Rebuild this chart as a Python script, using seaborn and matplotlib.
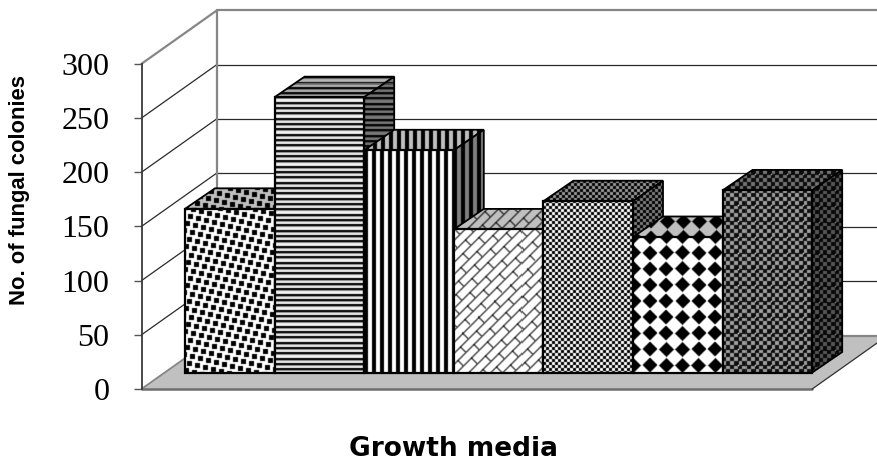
import numpy as np
import matplotlib
matplotlib.use("Agg")
import matplotlib.pyplot as plt
from matplotlib.patches import Polygon
from matplotlib.transforms import IdentityTransform
import seaborn as sns

# Colony counts per growth medium
media = ["M1", "M2", "M3", "M4", "M5", "M6", "M7"]
colonies = [151, 254, 205, 132, 158, 125, 168]
tick_values = [0, 50, 100, 150, 200, 250, 300]
x_title = "Growth media"
y_title = "No. of fungal colonies"

W, H = 877, 462
sns.set_theme(style="white")
plt.rcParams["font.family"] = ["Liberation Serif", "DejaVu Sans"]

fig = plt.figure(figsize=(W / 100, H / 100), dpi=100, facecolor="white")

# Oblique box geometry, in pixels
AX_L, AX_B = 141.5, 389.0
PX_PER_UNIT = 54.2 / 50
BAR_L, BAR_W = 185.0, 89.6
WALL_D = (75.5, 53.5)
BAR_D = (30.0, 20.5)
BAR_BASE = 16.5 / PX_PER_UNIT

ax = fig.add_axes([AX_L / W, (H - AX_B) / H, (W - AX_L) / W, AX_B / H])
ax.patch.set_visible(False)
ax.set_autoscale_on(False)


def pattern_confetti(x, y):
    # square dots on a slanted lattice
    det = 8 * 7 + 3 * 2
    a = (7 * x + 3 * y) / det
    b = (-2 * x + 8 * y) / det
    ra, rb = np.round(a), np.round(b)
    dx = x - (8 * ra - 3 * rb)
    dy = y - (2 * ra + 7 * rb)
    return ((np.abs(dx) < 2.3) & (np.abs(dy) < 2.3)).astype(float)


def pattern_hlines(x, y):
    phase = np.mod(y, 16 / 3)
    return np.where(phase < 1.9, 1.0, np.where(phase < 3.0, 0.42, 0.05))


def pattern_vlines(x, y):
    return (np.mod(x, 8) < 4).astype(float)


def pattern_shingle(x, y):
    u, v = x + y, x - y
    k = np.floor(u / 11.3)
    slash = np.mod(u, 11.3) < 2.0
    back = np.mod(v + 16 * np.mod(k, 2), 32) < 2.0
    return np.where(slash & back, 1.0, 0.72 * (slash | back))


def pattern_check(x, y):
    return ((np.floor(x / 3) + np.floor(y / 3)) % 2 == 0).astype(float)


def pattern_diamond(x, y):
    dx = np.abs(np.mod(x + 8, 16.3) - 8.15)
    dy = np.abs(np.mod(y + 8, 16.1) - 8.05)
    return (dx + dy < 7.5).astype(float)


def pattern_dense(x, y):
    chk = ((np.floor(x / 4) + np.floor(y / 4)) % 2 == 0) * 0.9
    gx, gy = np.mod(x, 16) < 1, np.mod(y, 16) < 1
    cover = np.maximum(chk, 0.9 * (gx | gy))
    return np.where(gx & gy, -1.4, cover)


# pattern, then (front, top, side) background greys and the ink grey
styles = [
    (pattern_confetti, (1.00, 0.75, 0.50), 0.0),
    (pattern_hlines, (1.00, 0.75, 0.50), 0.0),
    (pattern_vlines, (1.00, 0.75, 0.50), 0.0),
    (pattern_shingle, (1.00, 0.75, 0.50), 0.0),
    (pattern_check, (1.00, 0.60, 0.50), 0.0),
    (pattern_diamond, (1.00, 0.75, 0.50), 0.0),
    (pattern_dense, (0.62, 0.45, 0.34), 0.0),
]

Y, X = np.mgrid[0:H, 0:W].astype(float)


def soften(a):
    out = a * 0.5
    for axis in (0, 1):
        out = out + 0.125 * (np.roll(a, 1, axis) + np.roll(a, -1, axis))
    return out


def face_image(cover, bg, ink, z, clip):
    grey = bg * (1 - cover) + ink * cover
    rgb = np.clip(np.dstack([grey] * 3), 0, 1)
    im = ax.imshow(rgb, extent=(0, W, 0, H), origin="upper", aspect="auto",
                   interpolation="nearest", transform=IdentityTransform(), zorder=z)
    im.set_clip_path(clip)
    return im


sns.barplot(x=media, y=colonies, bottom=BAR_BASE, width=1.0, fill=False, color="black",
            linewidth=1.6, errorbar=None, ax=ax)

ax.set_xlim(-0.5 - (BAR_L - AX_L) / BAR_W, -0.5 + (W - BAR_L) / BAR_W)
ax.set_ylim(0, AX_B / PX_PER_UNIT)
ax.set_yticks(tick_values)
ax.set_xticks([])
sns.despine(ax=ax, top=True, right=True, bottom=True)
ax.spines["left"].set_bounds(0, 300)
ax.spines["left"].set_color("#3a3a3a")
ax.spines["left"].set_linewidth(1.3)
ax.tick_params(axis="y", left=True, length=6, width=1.0, color="#555555", pad=17,
               labelsize=23, labelcolor="black")

to_px = ax.transData.transform
id_tf = IdentityTransform()

# Floor
x_left = ax.get_xlim()[0]
x_end = -0.5 + 7
fl, fr = to_px([(x_left, 0), (x_end, 0)])
d = np.array(WALL_D)
ax.add_patch(Polygon([fl, fr, fr + d, fl + d], closed=True, transform=id_tf,
                     facecolor="#c0c0c0", edgecolor="none", zorder=1, clip_on=False))
ax.plot(*zip(fl, fr), transform=id_tf, color="#6e6e6e", lw=1.8, zorder=2, clip_on=False)
ax.plot(*zip(fr, fr + d), transform=id_tf, color="#303030", lw=0.9, zorder=2, clip_on=False)
ax.plot(*zip(fl, fl + d), transform=id_tf, color="#868686", lw=1.3, zorder=2, clip_on=False)
ax.plot(*zip(fl + d, (W + 10, fl[1] + d[1])), transform=id_tf, color="#868686", lw=1.6,
        zorder=2, clip_on=False)

# Wall grid lines
for v in tick_values[1:]:
    p, = to_px([(x_left, v)])
    top = v == tick_values[-1]
    col = "#868686" if top else "#2a2a2a"
    lw = 1.6 if top else 0.9
    ax.plot(*zip(p, p + d), transform=id_tf, color=col, lw=lw, zorder=1.5, clip_on=False)
    ax.plot(*zip(p + d, (W + 10, p[1] + d[1])), transform=id_tf, color=col, lw=lw,
            zorder=1.5, clip_on=False)
base, = to_px([(x_left, 0)])
crown, = to_px([(x_left, tick_values[-1])])
ax.plot(*zip(base + d, crown + d), transform=id_tf, color="#868686", lw=1.6, zorder=1.6,
        clip_on=False)

# Bars are painted left to right so that each one hides its neighbour's side
depth = np.array(BAR_D)
for i, (bar, (pat, greys, ink)) in enumerate(zip(ax.patches, styles)):
    x0, x1 = bar.get_x(), bar.get_x() + bar.get_width()
    y0, y1 = bar.get_y(), bar.get_y() + bar.get_height()
    (lb, rb, lt, rt) = to_px([(x0, y0), (x1, y0), (x0, y1), (x1, y1)])
    cover = soften(pat(X - np.floor(lb[0]), Y - np.floor(H - lt[1])))
    z = 10 + i
    top = Polygon([lt, rt, rt + depth, lt + depth], closed=True, transform=id_tf,
                  facecolor="none", edgecolor="black", lw=1.3, joinstyle="miter", zorder=z + 0.2)
    side = Polygon([rb, rt, rt + depth, rb + depth], closed=True, transform=id_tf,
                   facecolor="none", edgecolor="black", lw=1.3, joinstyle="miter", zorder=z + 0.4)
    ax.add_patch(top)
    ax.add_patch(side)
    face_image(cover, greys[1], ink, z + 0.1, top)
    face_image(cover, greys[2], ink, z + 0.3, side)
    face_image(cover, greys[0], ink, z + 0.5, bar)
    bar.set_zorder(z + 0.6)
    bar.set_clip_on(False)

ax.set_xlim(-0.5 - (BAR_L - AX_L) / BAR_W, -0.5 + (W - BAR_L) / BAR_W)
ax.set_ylim(0, AX_B / PX_PER_UNIT)

ax.set_xlabel(x_title, family="DejaVu Sans", fontweight="bold", fontsize=19,
              color="black", va="baseline")
ax.xaxis.set_label_coords(453.5, H - 456.5, transform=id_tf)
ax.set_ylabel(y_title, family=["Liberation Sans", "DejaVu Sans"], fontweight="bold", fontsize=15.8,
              color="black", va="baseline", rotation=90, rotation_mode="anchor")
ax.yaxis.set_label_coords(25, H - 190, transform=id_tf)

fig.savefig("out.png", dpi=100)
